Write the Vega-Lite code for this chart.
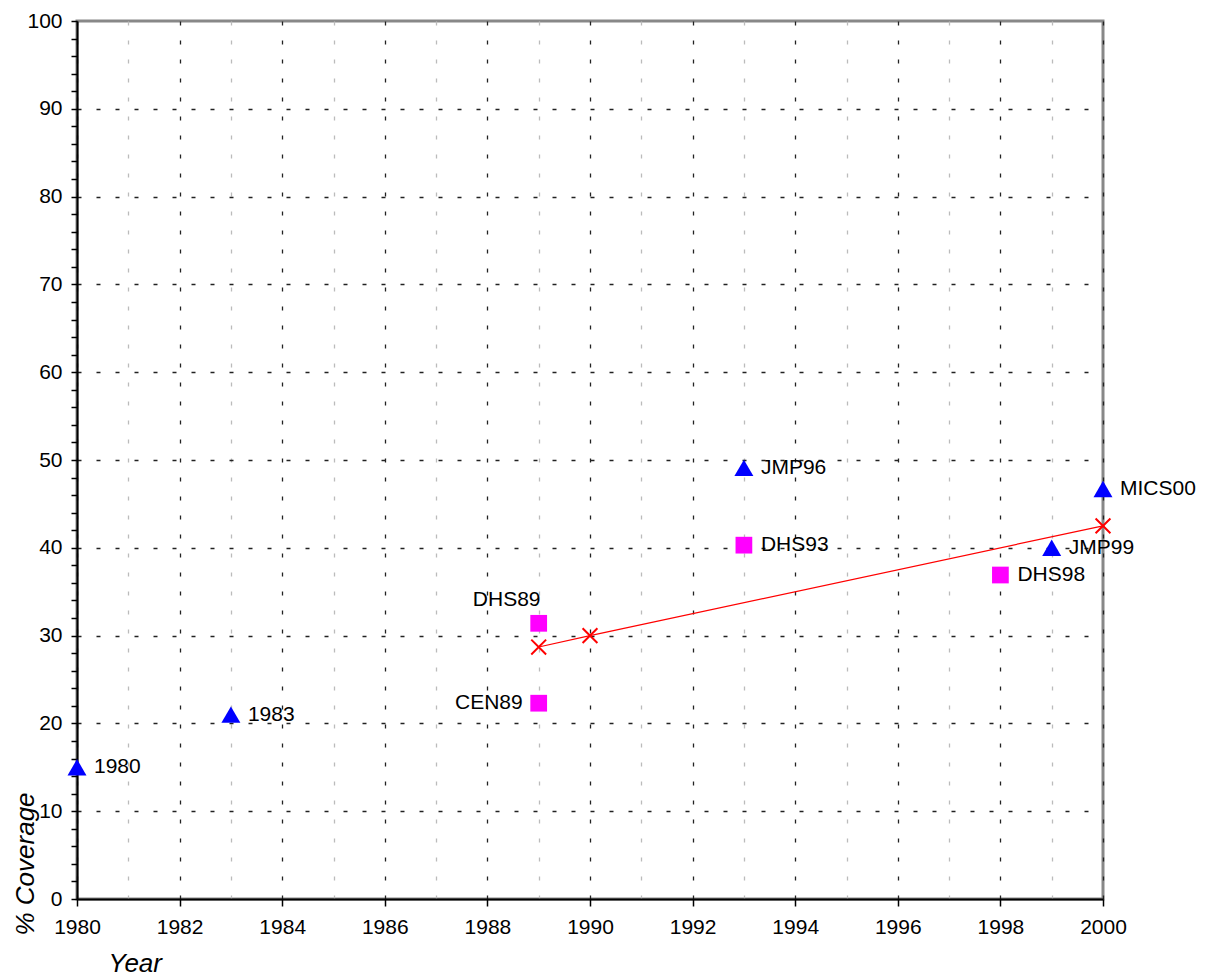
{
  "$schema": "https://vega.github.io/schema/vega-lite/v6.json",
  "width": 1026,
  "height": 878,
  "autosize": {"type": "none"},
  "padding": {"left": 77, "top": 21, "right": 104, "bottom": 79},
  "background": "white",
  "config": {
    "view": {"stroke": "#888888", "strokeWidth": 3},
    "font": "Liberation Sans",
    "axis": {"labelFont": "Liberation Sans", "titleFont": "Liberation Sans", "labelFontSize": 21, "labelColor": "black", "titleColor": "black", "domainColor": "black", "domainWidth": 2, "tickColor": "black", "tickWidth": 1.5, "labelFlush": false, "labelOverlap": false}
  },
  "data": {
    "values": [
      {"year": 1980, "value": 15.0, "series": "JMP", "label": "1980"},
      {"year": 1983, "value": 21.0, "series": "JMP", "label": "1983"},
      {"year": 1993, "value": 49.1, "series": "JMP", "label": "JMP96"},
      {"year": 1999, "value": 40.0, "series": "JMP", "label": "JMP99"},
      {"year": 2000, "value": 46.7, "series": "JMP", "label": "MICS00"},
      {"year": 1989, "value": 31.4, "series": "DHS", "label": "DHS89"},
      {"year": 1989, "value": 22.3, "series": "DHS", "label": "CEN89"},
      {"year": 1993, "value": 40.3, "series": "DHS", "label": "DHS93"},
      {"year": 1998, "value": 36.9, "series": "DHS", "label": "DHS98"},
      {"year": 1989, "value": 28.7, "series": "trend", "label": ""},
      {"year": 1990, "value": 30.0, "series": "trend", "label": ""},
      {"year": 2000, "value": 42.5, "series": "trend", "label": ""}
    ]
  },
  "encoding": {
    "x": {
      "field": "year", "type": "quantitative",
      "scale": {"domain": [1980, 2000], "nice": false, "zero": false},
      "axis": {
        "values": [1980,1981,1982,1983,1984,1985,1986,1987,1988,1989,1990,1991,1992,1993,1994,1995,1996,1997,1998,1999,2000],
        "format": "d",
        "labelExpr": "datum.value % 2 === 0 ? datum.label : ''",
        "tickSize": 7,
        "tickOpacity": {"condition": {"test": "datum.value % 2 === 0", "value": 1}, "value": 0},
        "labelPadding": 10,
        "grid": true,
        "gridColor": {"condition": {"test": "datum.value % 2 === 0", "value": "#222222"}, "value": "#bbbbbb"},
        "gridDash": [4, 15],
        "gridWidth": 1.3,
        "title": "Year",
        "titleFontSize": 26,
        "titleFontStyle": "italic",
        "titleFontWeight": "normal",
        "titleAnchor": null,
        "titleAlign": "left",
        "titleBaseline": "middle",
        "titleX": 31,
        "titleY": 64
      }
    },
    "y": {
      "field": "value", "type": "quantitative",
      "scale": {"domain": [0, 100], "nice": false},
      "axis": {
        "values": [0,2,4,6,8,10,12,14,16,18,20,22,24,26,28,30,32,34,36,38,40,42,44,46,48,50,52,54,56,58,60,62,64,66,68,70,72,74,76,78,80,82,84,86,88,90,92,94,96,98,100],
        "labelExpr": "datum.value % 10 === 0 ? datum.label : ''",
        "tickSize": 6,
        "labelPadding": 9,
        "grid": true,
        "gridOpacity": {"condition": {"test": "datum.value % 10 === 0 && datum.value > 0 && datum.value < 100", "value": 1}, "value": 0},
        "gridColor": "#222222",
        "gridDash": [4, 15],
        "gridWidth": 1.3,
        "title": "% Coverage",
        "titleFontSize": 26,
        "titleFontStyle": "italic",
        "titleFontWeight": "normal",
        "titleAngle": -90,
        "titleAnchor": null,
        "titleAlign": "left",
        "titleBaseline": "middle",
        "titleX": -52,
        "titleY": 914
      }
    }
  },
  "layer": [
    {
      "transform": [{"filter": "datum.series === 'trend'"}],
      "mark": {"type": "line", "color": "red", "strokeWidth": 1.2}
    },
    {
      "transform": [{"filter": "datum.series === 'trend'"}],
      "mark": {"type": "point", "shape": "M-1,-1L1,1M-1,1L1,-1", "filled": false, "stroke": "red", "strokeWidth": 2, "size": 220, "opacity": 1}
    },
    {
      "transform": [{"filter": "datum.series === 'DHS'"}],
      "mark": {"type": "point", "shape": "square", "filled": true, "color": "#ff00ff", "size": 280, "opacity": 1}
    },
    {
      "transform": [{"filter": "datum.series === 'JMP'"}],
      "mark": {"type": "point", "shape": "triangle-up", "filled": true, "color": "#0000ff", "size": 360, "opacity": 1}
    },
    {
      "transform": [{"filter": "datum.label !== '' && datum.label !== 'DHS89' && datum.label !== 'CEN89'"}],
      "mark": {"type": "text", "align": "left", "baseline": "middle", "dx": 17, "fontSize": 21, "font": "Liberation Sans", "color": "black"},
      "encoding": {"text": {"field": "label"}}
    },
    {
      "transform": [{"filter": "datum.label === 'CEN89'"}],
      "mark": {"type": "text", "align": "right", "baseline": "middle", "dx": -16, "fontSize": 21, "font": "Liberation Sans", "color": "black"},
      "encoding": {"text": {"field": "label"}}
    },
    {
      "transform": [{"filter": "datum.label === 'DHS89'"}],
      "mark": {"type": "text", "align": "center", "baseline": "middle", "dx": -32, "dy": -23, "fontSize": 21, "font": "Liberation Sans", "color": "black"},
      "encoding": {"text": {"field": "label"}}
    }
  ]
}
